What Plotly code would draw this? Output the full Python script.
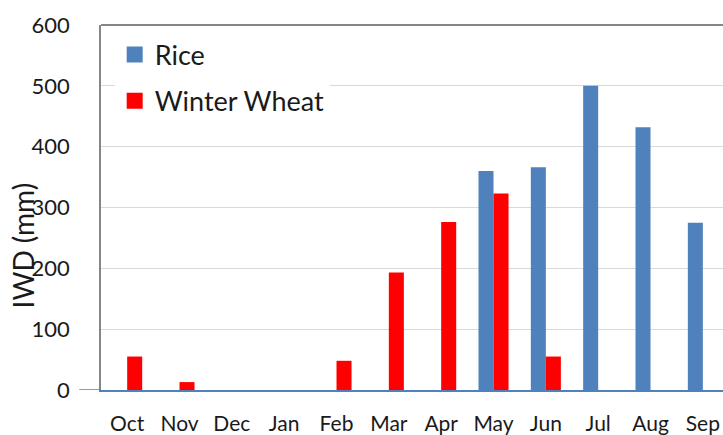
import plotly.graph_objects as go

months = ["Oct", "Nov", "Dec", "Jan", "Feb", "Mar", "Apr", "May", "Jun", "Jul", "Aug", "Sep"]
rice = [None, None, None, None, None, None, None, 360, 366, 500, 432, 275]
wheat = [55, 13, None, None, 48, 193, 276, 323, 55, None, None, None]
y_ticks = [0, 100, 200, 300, 400, 500, 600]

RICE_C = "#4F81BD"
WHEAT_C = "#FF0000"
FONT = "Lato"

fig = go.Figure()
fig.add_trace(go.Bar(x=months, y=rice, name="Rice", marker=dict(color=RICE_C, line=dict(width=0)),
                     showlegend=False))
fig.add_trace(go.Bar(x=months, y=wheat, name="Winter Wheat", marker=dict(color=WHEAT_C, line=dict(width=0)),
                     showlegend=False))
# legend proxies
fig.add_trace(go.Scatter(x=[None], y=[None], mode="markers", name="Rice", legendgroup="r",
                         marker=dict(symbol="square", size=16, color=RICE_C)))
fig.add_trace(go.Scatter(x=[None], y=[None], mode="markers", name="Winter Wheat", legendgroup="w",
                         marker=dict(symbol="square", size=16, color=WHEAT_C)))

fig.update_layout(
    width=723, height=435,
    margin=dict(l=101, r=0, t=25, b=45, autoexpand=False),
    paper_bgcolor="white", plot_bgcolor="white",
    font=dict(family=FONT, size=22, color="#1a1a1a"),
    barmode="group", bargap=0.426, bargroupgap=0,
    showlegend=True,
    legend=dict(x=0.022, y=0.985, xanchor="left", yanchor="top", bgcolor="white",
                traceorder="grouped", tracegroupgap=8, itemsizing="trace",
                font=dict(size=27)),
    xaxis=dict(categoryorder="array", categoryarray=months, range=[-0.5, 11.385],
               showline=True, linecolor=RICE_C, linewidth=1.5, ticks="", automargin=False,
               showgrid=False, ticklabelstandoff=14, tickfont=dict(size=21)),
    yaxis=dict(range=[0, 600], tickvals=y_ticks, showgrid=True, gridcolor="#D9D9D9",
               gridwidth=1, showline=True, linecolor="#868686", linewidth=1.5, automargin=False,
               zeroline=False, ticks="", ticklabelstandoff=25),
    shapes=[
        dict(type="line", xref="paper", yref="paper", x0=0, x1=1, y0=1, y1=1,
             line=dict(color="#868686", width=2)),
        dict(type="line", xref="paper", yref="y", x0=-0.035, x1=0, y0=0, y1=0,
             line=dict(color=RICE_C, width=1.5)),
    ],
    annotations=[dict(text="IWD (mm)", xref="paper", yref="paper", x=-0.126, y=0.395,
                      textangle=-90, showarrow=False, font=dict(size=28),
                      xanchor="center", yanchor="middle")],
)

fig.write_html("out.html", config={"displayModeBar": False},
               post_script="document.body.style.margin='0';")
